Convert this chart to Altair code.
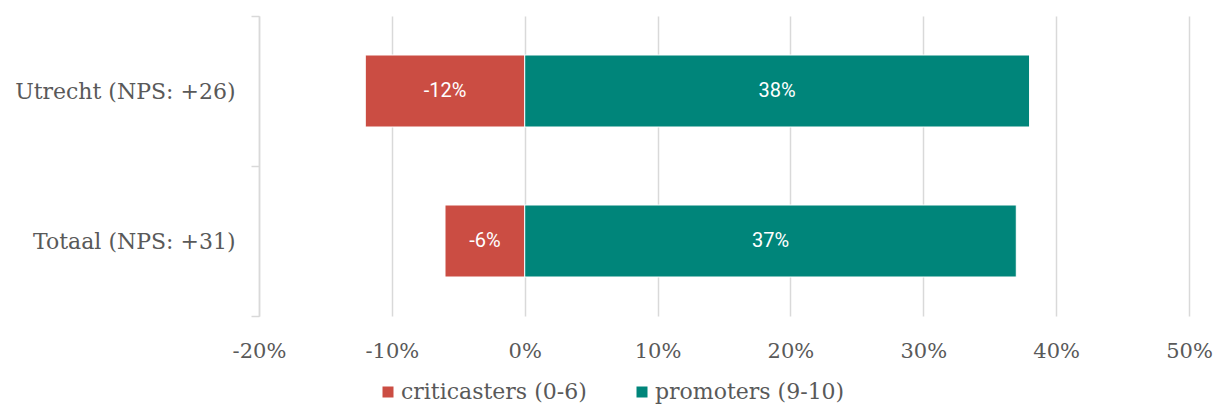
import altair as alt
import pandas as pd

categories = ["Utrecht (NPS: +26)", "Totaal (NPS: +31)"]
series = ["criticasters (0-6)", "promoters (9-10)"]
criticasters = [-12, -6]
promoters = [38, 37]
x_ticks = [-20, -10, 0, 10, 20, 30, 40, 50]
colors = ["#CB4D43", "#00857A"]

rows = []
for i, c in enumerate(categories):
    rows.append({"cat": c, "series": series[0], "value": criticasters[i], "order": 0})
    rows.append({"cat": c, "series": series[1], "value": promoters[i], "order": 1})
df = pd.DataFrame(rows)
df["mid"] = df["value"] / 2
df["label"] = df["value"].astype(int).astype(str) + "%"

serif = "DejaVu Serif"
grey = "#595959"

y_enc = alt.Y(
    "cat:N",
    sort=categories,
    title=None,
    scale=alt.Scale(paddingInner=0, paddingOuter=0),
    axis=alt.Axis(
        tickBand="extent",
        tickSize=8,
        tickColor="#d9d9d9",
        tickWidth=1.5,
        domainColor="#d9d9d9",
        domainWidth=1.5,
        labelFont=serif,
        labelFontSize=22,
        labelColor=grey,
        labelPadding=16,
        labelLimit=400,
        grid=False,
    ),
)

x_scale = alt.Scale(domain=[-20, 50], nice=False)

bars = alt.Chart(df).mark_bar(stroke="white", strokeWidth=1, size=72).encode(
    x=alt.X(
        "value:Q",
        scale=x_scale,
        title=None,
        axis=alt.Axis(
            values=x_ticks,
            labelExpr="datum.value + '%'",
            grid=True,
            gridColor="#d9d9d9",
            gridWidth=1.5,
            domain=False,
            ticks=False,
            labelFlush=False,
            labelFont=serif,
            labelFontSize=21,
            labelColor=grey,
            labelPadding=24,
        ),
    ),
    y=y_enc,
    color=alt.Color(
        "series:N",
        scale=alt.Scale(domain=series, range=colors),
        legend=alt.Legend(
            title=None,
            orient="none",
            direction="horizontal",
            legendX=118,
            legendY=365,
            symbolType="square",
            symbolSize=121,
            symbolStrokeWidth=0,
            labelFont=serif,
            labelFontSize=22,
            labelColor=grey,
            columnPadding=44,
            labelOffset=2,
            labelLimit=400,
        ),
    ),
    order=alt.Order("order:Q"),
)

labels = alt.Chart(df).mark_text(
    color="white", font="Roboto", fontSize=20, baseline="middle", align="center"
).encode(
    x=alt.X("mid:Q", scale=x_scale),
    y=alt.Y("cat:N", sort=categories),
    text="label:N",
)

chart = (
    alt.layer(bars, labels)
    .properties(
        width=930,
        height=300,
        autosize=alt.AutoSizeParams(type="none"),
        padding={"left": 251, "top": 8, "right": 25, "bottom": 88},
    )
    .configure_view(stroke=None)
)

chart.save("out.html", embed_options={"renderer": "svg", "actions": False})
